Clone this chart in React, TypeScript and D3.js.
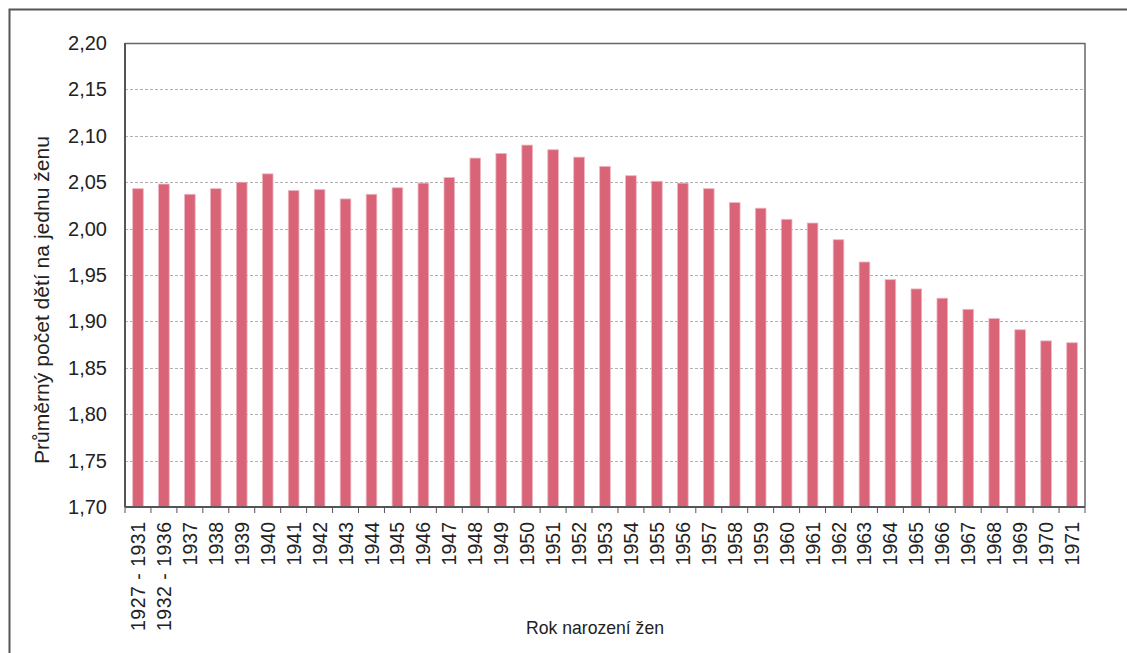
import React from 'react';
import * as d3 from 'd3';

// Kategorie (rok narození žen) a hodnoty (průměrný počet dětí na jednu ženu)
const categories: string[] = [
  '1927 - 1931', '1932 - 1936',
  '1937', '1938', '1939', '1940', '1941', '1942', '1943', '1944', '1945', '1946',
  '1947', '1948', '1949', '1950', '1951', '1952', '1953', '1954', '1955', '1956',
  '1957', '1958', '1959', '1960', '1961', '1962', '1963', '1964', '1965', '1966',
  '1967', '1968', '1969', '1970', '1971',
];

const values: number[] = [
  2.043, 2.048,
  2.037, 2.043, 2.050, 2.059, 2.041, 2.042, 2.032, 2.037, 2.044, 2.049,
  2.055, 2.076, 2.081, 2.090, 2.085, 2.077, 2.067, 2.057, 2.051, 2.049,
  2.043, 2.028, 2.022, 2.010, 2.006, 1.988, 1.964, 1.945, 1.935, 1.925,
  1.913, 1.903, 1.891, 1.879, 1.877,
];

const yTicks: number[] = [1.7, 1.75, 1.8, 1.85, 1.9, 1.95, 2.0, 2.05, 2.1, 2.15, 2.2];

const yTitle = 'Průměrný počet dětí na jednu ženu';
const xTitle = 'Rok narození žen';

const W = 1127;
const H = 653;
const plot = { left: 125, right: 1085, top: 43, bottom: 507 };
const font = '"Liberation Sans", Arial, sans-serif';

export default function App() {
  const x = d3.scaleBand<string>()
    .domain(categories)
    .range([plot.left, plot.right])
    .paddingInner(0.59)
    .paddingOuter(0.295);

  const y = d3.scaleLinear().domain([1.7, 2.2]).range([plot.bottom, plot.top]);

  const step = (plot.right - plot.left) / categories.length;
  const fmt = (v: number) => d3.format('.2f')(v).replace('.', ',');

  return (
    <div style={{ position: 'absolute', left: 0, top: 0 }}>
      <svg width={W} height={H} style={{ display: 'block', background: '#fff' }} fontFamily={font}>
        {/* vnější rámeček */}
        <path d={`M9.5,${H} V9.5 H${W}`} fill="none" stroke="#555" strokeWidth={2} />

        {/* mřížka */}
        {yTicks.slice(1, -1).map((t) => (
          <line key={t} x1={plot.left} x2={plot.right} y1={Math.round(y(t)) + 0.5} y2={Math.round(y(t)) + 0.5}
            stroke="#b0b0b0" strokeDasharray="3,2" strokeWidth={1} />
        ))}

        {/* sloupce */}
        {categories.map((c, i) => (
          <rect key={c} x={x(c)} y={y(values[i])} width={x.bandwidth()} height={plot.bottom - y(values[i])}
            fill="#d96478" stroke="#eeb6c0" strokeWidth={0.8} />
        ))}

        {/* okraje grafu */}
        <line x1={plot.left} x2={plot.right} y1={plot.top + 0.5} y2={plot.top + 0.5} stroke="#666" strokeWidth={1.5} />
        <line x1={plot.right} x2={plot.right} y1={plot.top} y2={plot.bottom} stroke="#666" strokeWidth={1.5} />
        <line x1={plot.left} x2={plot.left} y1={plot.top} y2={plot.bottom} stroke="#555" strokeWidth={2} />
        <line x1={plot.left} x2={plot.right} y1={plot.bottom} y2={plot.bottom} stroke="#555" strokeWidth={2} />

        {/* značky na ose x */}
        {d3.range(categories.length + 1).map((i) => (
          <line key={i} x1={plot.left + i * step} x2={plot.left + i * step} y1={plot.bottom} y2={plot.bottom + 6}
            stroke="#555" strokeWidth={1} />
        ))}

        {/* popisky osy y */}
        {yTicks.map((t) => (
          <text key={t} x={107} y={y(t)} dy="0.35em" textAnchor="end" fontSize={20} fill="#222">{fmt(t)}</text>
        ))}

        {/* popisky osy x */}
        {categories.map((c) => {
          const cx = (x(c) ?? 0) + x.bandwidth() / 2;
          return (
            <text key={c} transform={`translate(${cx},${plot.bottom + 15}) rotate(-90)`} dy="0.36em"
              textAnchor="end" fontSize={19.5} fill="#222"
              textLength={c.length > 4 ? 109 : undefined} lengthAdjust="spacing">{c}</text>
          );
        })}

        {/* názvy os */}
        <text transform={`translate(42,300) rotate(-90)`} dy="0.35em" textAnchor="middle" fontSize={20}
          textLength={328} lengthAdjust="spacingAndGlyphs" fill="#222">{yTitle}</text>
        <text x={595} y={634} textAnchor="middle" fontSize={19}
          textLength={138} lengthAdjust="spacingAndGlyphs" fill="#222">{xTitle}</text>
      </svg>
    </div>
  );
}
